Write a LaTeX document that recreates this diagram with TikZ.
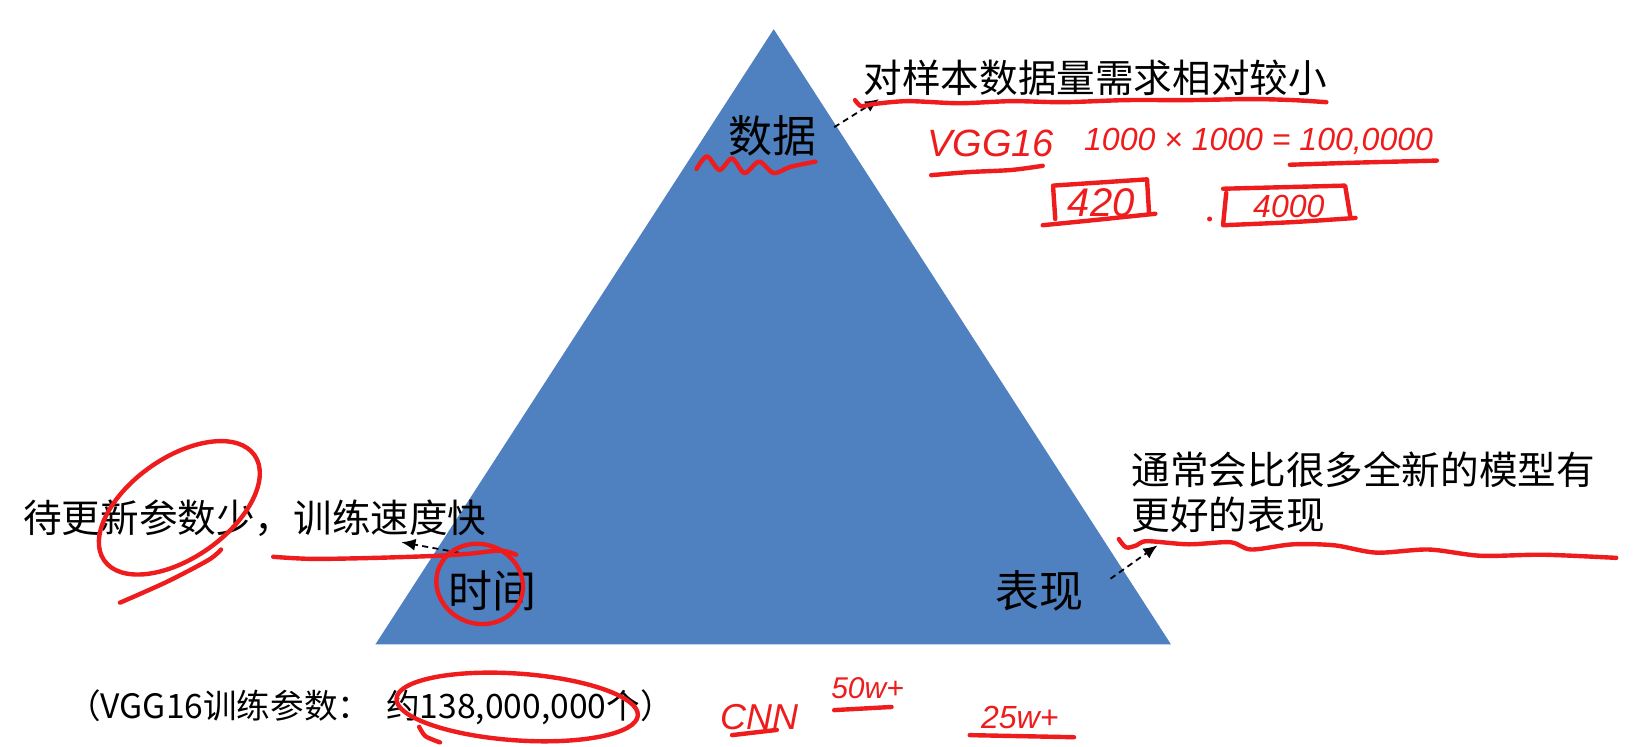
\documentclass[tikz,border=0pt]{standalone}
\usepackage{fontspec}
\setmainfont{Noto Sans CJK SC}
\newfontfamily\handfont{Liberation Sans}
\usetikzlibrary{arrows.meta}
\definecolor{triblue}{RGB}{79,128,191}
\definecolor{pen}{RGB}{238,28,28}
\begin{document}
\begin{tikzpicture}[x=0.52135pt,y=-0.52135pt,
  lbl/.style={font=\fontsize{22}{26}\selectfont, inner sep=0pt, text=black},
  txt/.style={font=\fontsize{19.3}{22.4}\selectfont, inner sep=0pt, anchor=west},
  dasharrow/.style={draw=black, line width=0.9pt, dash pattern=on 3pt off 2.2pt, -{Latex[length=7pt,width=6pt]}},
  redpen/.style={draw=pen, line width=2.2pt, line cap=round, line join=round},
  hand/.style={text=pen, font=\handfont\itshape\fontsize{18}{20}\selectfont, inner sep=0pt}]
\fill[white] (0,0) rectangle (1568,716);
\useasboundingbox (0,0) rectangle (1568,716);
% triangle
\fill[triblue] (742,28) -- (1123,618) -- (360,618) -- cycle;
% labels
\node[lbl] (shuju) at (741,130) {数据};
\node[lbl] (shijian) at (472,567) {时间};
\node[lbl] (biaoxian) at (997,567) {表现};
% texts
\node[txt] (t1) at (828,75) {对样本数据量需求相对较小};
\node[txt] (t2) at (22,497) {待更新参数少，训练速度快};
\node[txt, align=left, anchor=north west] (t3) at (1085,433) {通常会比很多全新的模型有\\更好的表现};
\node[font=\fontsize{16.8}{20}\selectfont, inner sep=0pt, anchor=west] (t4) at (64,678) {（VGG16训练参数：~~约138,000,000个）};
% dashed arrows
\coordinate (a1s) at (800,122);
\coordinate (a1e) at (843,95);
\coordinate (a2s) at (440,530);
\coordinate (a2e) at (385,520);
\coordinate (a3s) at (1065,555);
\coordinate (a3e) at (1110,523);
\draw[dasharrow] (a1s) -- (a1e);
\draw[dasharrow] (a2s) -- (a2e);
\draw[dasharrow] (a3s) -- (a3e);
% red annotations
\draw[redpen] plot[smooth] coordinates {(820,96) (826,102) (836,100) (870,97) (920,99) (970,97) (1020,98) (1080,96) (1140,96) (1200,95) (1240,96) (1272,98)};
\draw[redpen] plot[smooth] coordinates {(668,162) (678,150) (690,163) (702,152) (714,166) (728,155) (742,166) (758,160) (782,155)};
\node[hand, font=\handfont\itshape\fontsize{19}{20}\selectfont] (vgg) at (950,138) {VGG16};
\draw[redpen] plot[smooth] coordinates {(893,168) (930,165) (970,163) (1000,159)};
\node[hand, font=\handfont\itshape\fontsize{16}{18}\selectfont] (eq) at (1207,136) {1000 × 1000 = 100,0000};
\draw[redpen] plot[smooth] coordinates {(1237,158) (1300,156) (1378,154)};
% box 420
\draw[redpen] (1010,180) -- (1012,210);
\draw[redpen] (1010,178) -- (1100,172) -- (1102,205);
\draw[redpen] plot[smooth] coordinates {(1000,216) (1050,211) (1108,205)};
\node[hand, font=\handfont\itshape\fontsize{20}{22}\selectfont] (n420) at (1056,194) {420};
% box 4000
\fill[pen] (1160,210) circle (2.4);
\draw[redpen] (1176,185) -- (1173,215);
\draw[redpen] (1173,181) -- (1290,178) -- (1295,208);
\draw[redpen] plot[smooth] coordinates {(1173,216) (1240,213) (1300,209)};
\node[hand, font=\handfont\itshape\fontsize{16}{18}\selectfont] (n4000) at (1236,198) {4000};
% left loop
\draw[redpen, rotate around={35:(172,487)}] (172,487) ellipse (88 and 48);
\draw[redpen] plot[smooth] coordinates {(212,527) (200,537) (160,558) (115,578)};
% line and circle at time
\draw[redpen] plot[smooth] coordinates {(262,534) (300,536) (360,535) (420,533) (450,531) (480,528) (495,532)};
\draw[redpen, rotate around={-20:(460,560)}] (460,560) ellipse (42 and 38);
% wavy under right text
\draw[redpen] plot[smooth] coordinates {(1073,517) (1080,525) (1090,523) (1100,519) (1140,522) (1180,520) (1200,527) (1240,522) (1280,523) (1320,530) (1370,527) (1420,533) (1480,532) (1550,535)};
% ellipse bottom
\draw[redpen, rotate around={-4:(496,678)}] (496,678) ellipse (116 and 32);
\draw[redpen] plot[smooth] coordinates {(402,697) (408,706) (422,712)};
% CNN etc
\node[hand] (cnn) at (728,688) {CNN};
\draw[redpen] (702,705) -- (745,700);
\node[hand, font=\handfont\itshape\fontsize{15}{18}\selectfont] (w50) at (832,660) {50w+};
\draw[redpen] (800,681) -- (855,678);
\node[hand, font=\handfont\itshape\fontsize{16}{18}\selectfont] (w25) at (978,688) {25w+};
\draw[redpen] (930,705) -- (1030,707);
\end{tikzpicture}
\end{document}
